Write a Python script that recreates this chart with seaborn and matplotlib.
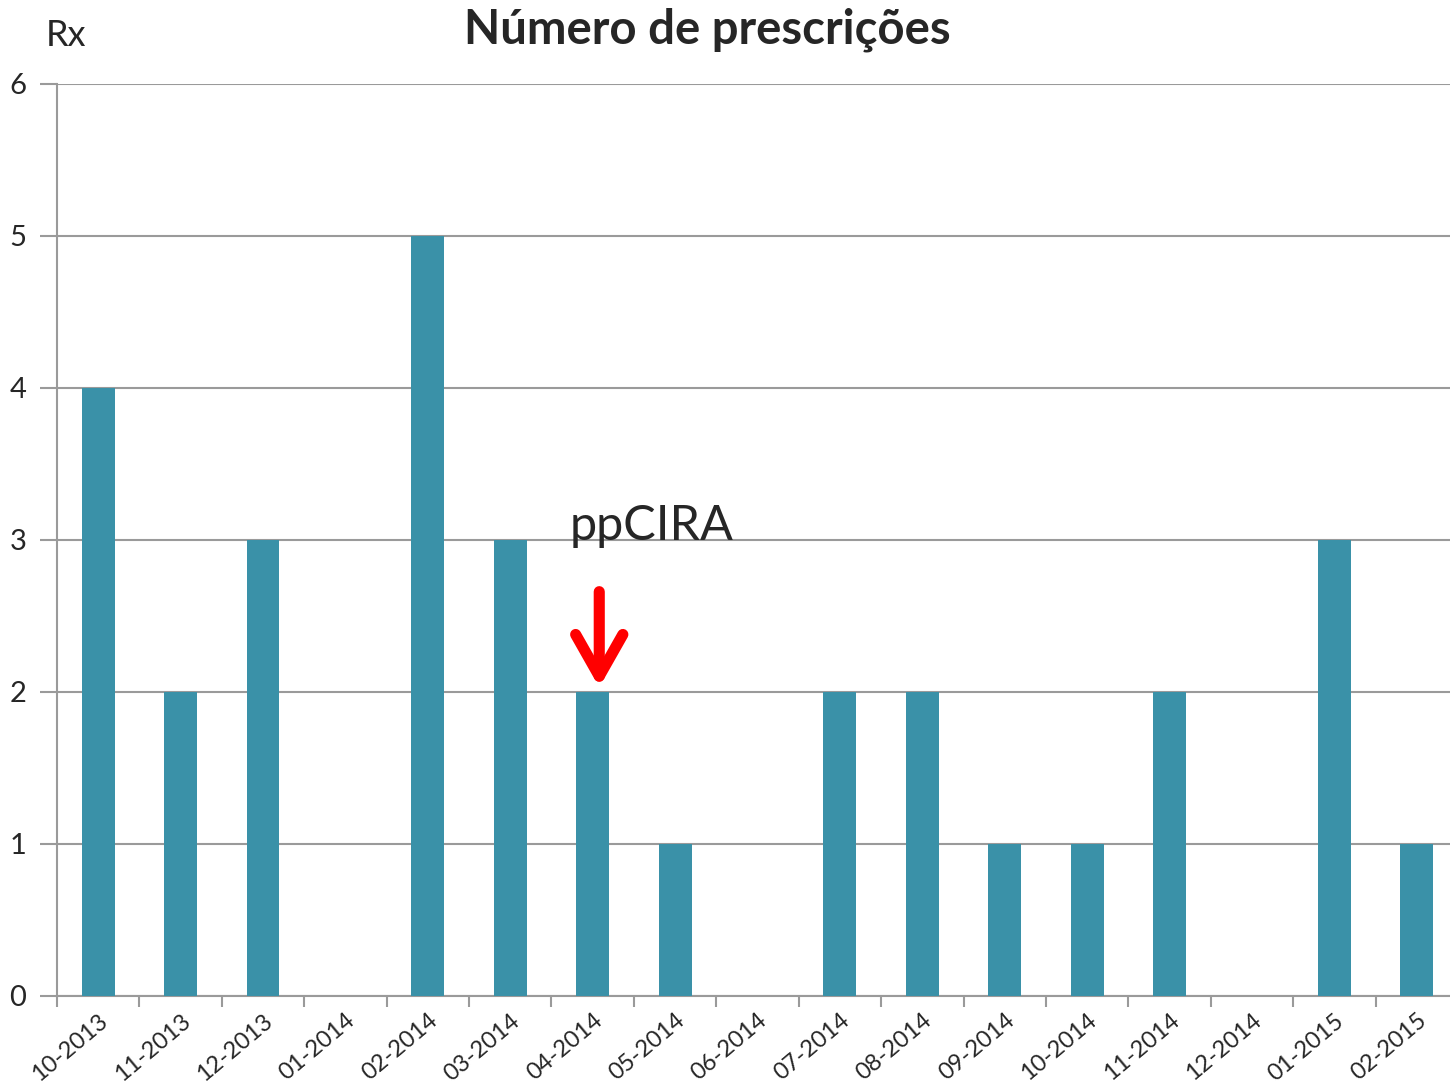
import matplotlib.pyplot as plt
import seaborn as sns
import pandas as pd
import numpy as np

sns.set_style("white")
plt.rcParams['font.family'] = ['Lato', 'DejaVu Sans']

months = ["10-2013", "11-2013", "12-2013", "01-2014", "02-2014", "03-2014",
          "04-2014", "05-2014", "06-2014", "07-2014", "08-2014", "09-2014",
          "10-2014", "11-2014", "12-2014", "01-2015", "02-2015"]
prescriptions = [4, 2, 3, 0, 5, 3, 2, 1, 0, 2, 2, 1, 1, 2, 0, 3, 1]
y_ticks = [0, 1, 2, 3, 4, 5, 6]

data = pd.DataFrame({"Mes": months, "Rx": prescriptions})

fig = plt.figure(figsize=(14.5, 10.88), dpi=100)
ax = fig.add_axes([0.0393, 0.0846, 0.9662, 0.8382])

sns.barplot(x="Mes", y="Rx", data=data, color="#3A91A8", width=0.4,
            saturation=1, linewidth=0, ax=ax, zorder=3)

ax.set_xlim(-0.5, len(months) - 0.5)
ax.set_ylim(0, 6)
ax.set_yticks(y_ticks)
ax.set_yticklabels([str(t) for t in y_ticks], fontsize=21)
ax.yaxis.grid(True, color="#9a9a9a", linewidth=1.5, zorder=0)
ax.tick_params(axis="y", length=12, width=1.5, color="#9a9a9a", pad=10, left=True)

ax.set_xticks(range(len(months)))
ax.set_xticklabels(months, rotation=40, ha="right", rotation_mode="anchor", fontsize=17)
ax.tick_params(axis="x", which="major", length=0, pad=10)
ax.set_xticks(np.arange(-0.5, len(months), 1), minor=True)
ax.tick_params(axis="x", which="minor", length=8, width=1.5, color="#9a9a9a", bottom=True)

for s in ["top", "right"]:
    ax.spines[s].set_visible(False)
for s in ["left", "bottom"]:
    ax.spines[s].set_color("#9a9a9a")
    ax.spines[s].set_linewidth(1.5)

ax.set_xlabel("")
ax.set_ylabel("")

fig.text(707 / 1450, 1 - 30 / 1088, "Número de prescrições", fontsize=34,
         fontweight="bold", ha="center", va="center")
fig.text(46 / 1450, 1 - 35 / 1088, "Rx", fontsize=26, ha="left", va="center")

ax.text(6.72, 3.0, "ppCIRA", fontsize=35, ha="center", va="baseline")
ax.annotate("", xy=(6.08, 2.03), xytext=(6.08, 2.66),
            arrowprops=dict(arrowstyle="->,head_length=3.0,head_width=1.7",
                            color="red", lw=8, shrinkA=0, shrinkB=0,
                            capstyle="round", joinstyle="round"))

fig.savefig("out.png", dpi=100)
